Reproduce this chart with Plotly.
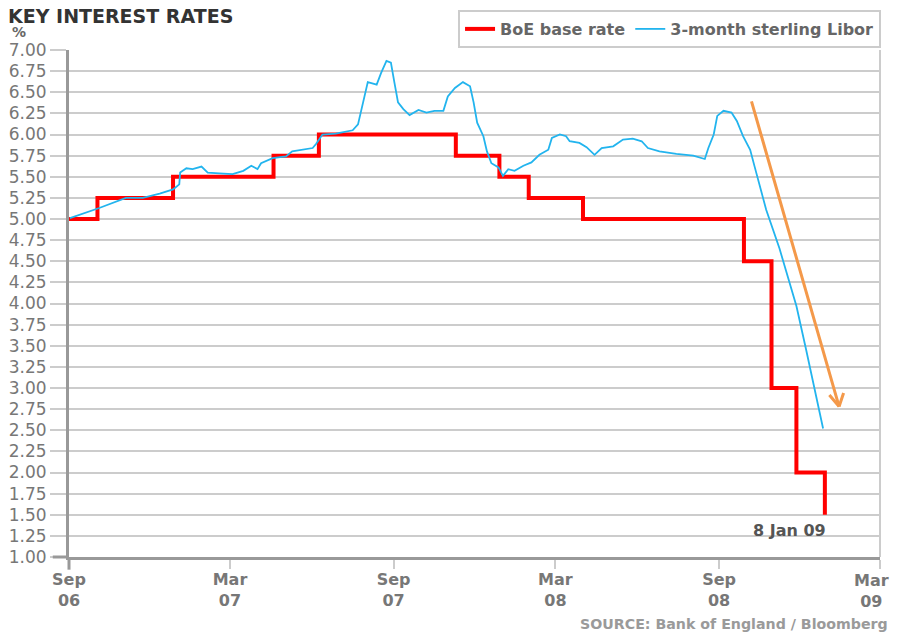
import plotly.graph_objects as go

# BoE base rate steps (date of change, new rate)
boe_dates = ["2006-09-01", "2006-10-03", "2006-12-27", "2007-04-19", "2007-06-09",
             "2007-11-10", "2007-12-29", "2008-01-31", "2008-04-01", "2008-09-29",
             "2008-10-30", "2008-11-27", "2008-12-29"]
boe_rate = [5.00, 5.25, 5.50, 5.75, 6.00, 5.75, 5.50, 5.25, 5.00, 4.50, 3.00, 2.00, 1.50]

# 3-month sterling Libor
libor_dates = ["2006-09-02", "2006-10-05", "2006-11-04", "2006-11-23", "2006-12-12",
               "2006-12-27", "2007-01-03", "2007-01-04", "2007-01-11", "2007-01-18",
               "2007-01-28", "2007-02-04", "2007-02-17", "2007-03-04", "2007-03-16",
               "2007-03-25", "2007-04-01", "2007-04-05", "2007-04-18", "2007-05-03",
               "2007-05-10", "2007-06-02", "2007-06-06", "2007-06-13", "2007-06-28",
               "2007-07-02", "2007-07-17", "2007-07-23", "2007-07-29", "2007-08-03",
               "2007-08-13", "2007-08-18", "2007-08-24", "2007-08-29", "2007-09-02",
               "2007-09-06", "2007-09-12", "2007-09-19", "2007-09-29", "2007-10-08",
               "2007-10-17", "2007-10-27", "2007-11-01", "2007-11-09", "2007-11-18",
               "2007-11-26", "2007-11-30", "2007-12-04", "2007-12-11", "2007-12-15",
               "2007-12-20", "2007-12-28", "2008-01-02", "2008-01-08", "2008-01-15",
               "2008-01-25", "2008-02-03", "2008-02-12", "2008-02-22", "2008-02-26",
               "2008-03-06", "2008-03-13", "2008-03-17", "2008-03-28", "2008-04-05",
               "2008-04-14", "2008-04-22", "2008-05-05", "2008-05-16", "2008-05-27",
               "2008-06-06", "2008-06-13", "2008-06-26", "2008-07-15", "2008-08-03",
               "2008-08-16", "2008-08-20", "2008-08-26", "2008-08-30", "2008-09-06",
               "2008-09-15", "2008-09-21", "2008-09-28", "2008-10-06", "2008-10-11",
               "2008-10-24", "2008-11-08", "2008-11-27", "2008-12-08", "2008-12-27"]
libor_rate = [5.01, 5.13, 5.25, 5.25, 5.30, 5.35, 5.41, 5.55, 5.60, 5.59,
              5.62, 5.55, 5.54, 5.53, 5.57, 5.63, 5.59, 5.66, 5.72, 5.74,
              5.80, 5.84, 5.89, 6.00, 6.01, 6.02, 6.05, 6.12, 6.38, 6.62,
              6.59, 6.73, 6.87, 6.85, 6.61, 6.38, 6.30, 6.23, 6.29, 6.26,
              6.28, 6.28, 6.45, 6.55, 6.62, 6.57, 6.38, 6.14, 5.98, 5.80,
              5.66, 5.61, 5.51, 5.59, 5.57, 5.63, 5.67, 5.76, 5.82, 5.96,
              6.00, 5.98, 5.92, 5.90, 5.85, 5.76, 5.84, 5.86, 5.94, 5.95,
              5.92, 5.84, 5.80, 5.77, 5.75, 5.71, 5.84, 6.00, 6.22, 6.28,
              6.26, 6.16, 5.98, 5.82, 5.62, 5.11, 4.65, 3.97, 3.45, 2.52]

tick_dates = ["2006-09-01", "2007-03-01", "2007-09-01", "2008-03-01", "2008-09-01", "2009-03-01"]
tick_text = ["Sep<br>06", "Mar<br>07", "Sep<br>07", "Mar<br>08", "Sep<br>08", "Mar<br>09"]

# trend arrow (start -> tip), barbs as pixel offsets from the tip
arrow_start = ("2008-10-07", 6.41)
arrow_tip = ("2009-01-14", 2.78)
arrow_barbs = [(-11, -13), (5, -15)]

FONT = "DejaVu Sans"
ORANGE = "#f4994a"
TICKFONT = dict(family=FONT, size=16, color="#777777", weight="bold")

fig = go.Figure()
fig.add_trace(go.Scatter(x=boe_dates, y=boe_rate, name="BoE base rate", mode="lines",
                         line=dict(color="#ff0000", width=4, shape="hv")))
fig.add_trace(go.Scatter(x=libor_dates, y=libor_rate, name="3-month sterling Libor", mode="lines",
                         line=dict(color="#22b4ee", width=1.8)))

fig.add_annotation(x=arrow_tip[0], y=arrow_tip[1], ax=arrow_start[0], ay=arrow_start[1],
                   xref="x", yref="y", axref="x", ayref="y", text="",
                   showarrow=True, arrowhead=0, arrowwidth=3, arrowcolor=ORANGE)
for bx, by in arrow_barbs:
    fig.add_annotation(x=arrow_tip[0], y=arrow_tip[1], ax=bx, ay=by, xref="x", yref="y",
                       text="", showarrow=True, arrowhead=0, arrowwidth=3,
                       arrowcolor=ORANGE, standoff=0, startstandoff=0)

fig.add_annotation(x=boe_dates[-1], y=boe_rate[-1], text="8 Jan 09", showarrow=False,
                   xanchor="right", yanchor="top", xshift=3, yshift=-4,
                   font=dict(family=FONT, size=16, color="#555555", weight="bold"))

fig.add_annotation(x=-0.0727, y=1.036, xref="paper", yref="paper", text="%",
                   showarrow=False, xanchor="left", yanchor="middle",
                   font=dict(family=FONT, size=14, color="#666666", weight="bold"))

fig.add_annotation(x=1.0123, y=-0.132, xref="paper", yref="paper",
                   text="SOURCE: Bank of England / Bloomberg",
                   showarrow=False, xanchor="right", yanchor="middle",
                   font=dict(family=FONT, size=14.2, color="#9a9a9a", weight="bold"))

# last tick label sits at the page edge, so it is placed as a right-aligned label
fig.add_annotation(x=1.0136, y=-0.0237, xref="paper", yref="paper", text=tick_text[-1],
                   showarrow=False, xanchor="right", yanchor="top", align="center",
                   font=TICKFONT)

# right frame and axis extensions
fig.add_shape(type="line", xref="paper", yref="paper", x0=1, x1=1, y0=0, y1=1,
              line=dict(color="#cccccc", width=2))
fig.add_shape(type="line", xref="paper", yref="paper", x0=0, x1=0, y0=0, y1=-0.025,
              line=dict(color="#999999", width=3))
fig.add_shape(type="line", xref="paper", yref="paper", x0=-0.02, x1=0, y0=0, y1=0,
              line=dict(color="#999999", width=3))

# the page body adds an 8px margin, so the figure is 8px smaller each way
fig.update_layout(
    width=892, height=631,
    margin=dict(l=61, r=20, t=42, b=82, autoexpand=False),
    paper_bgcolor="white", plot_bgcolor="white",
    font=dict(family=FONT, color="#777777"),
    title=dict(text="KEY INTEREST RATES", x=0, y=1 - 2 / 631,
               xref="container", yref="container", xanchor="left", yanchor="top",
               pad=dict(l=0, t=0, b=0, r=0),
               font=dict(family=FONT, size=19, color="#333333", weight="bold")),
    showlegend=True,
    legend=dict(orientation="h", x=0.4797, y=1.0789, xanchor="left", yanchor="top",
                bordercolor="#cccccc", borderwidth=2, bgcolor="white",
                font=dict(family=FONT, size=16, color="#666666", weight="bold"),
                itemwidth=30),
    xaxis=dict(type="date", range=["2006-09-01", "2009-03-01"],
               tickvals=tick_dates, ticktext=tick_text[:-1] + [""], automargin=False,
               showgrid=False, zeroline=False,
               showline=True, linecolor="#999999", linewidth=3,
               ticks="outside", ticklen=9, tickwidth=1.5, tickcolor="#cccccc",
               ticklabelstandoff=-3, tickfont=TICKFONT),
    yaxis=dict(range=[1, 7], tick0=1, dtick=0.25, tickformat=".2f", automargin=False,
               showgrid=True, gridcolor="#cccccc", gridwidth=2, zeroline=False,
               showline=True, linecolor="#999999", linewidth=3,
               ticks="outside", ticklen=16, tickwidth=2, tickcolor="#cccccc",
               tickfont=dict(family=FONT, size=17, color="#777777")),
)

fig.write_html("out.html")
